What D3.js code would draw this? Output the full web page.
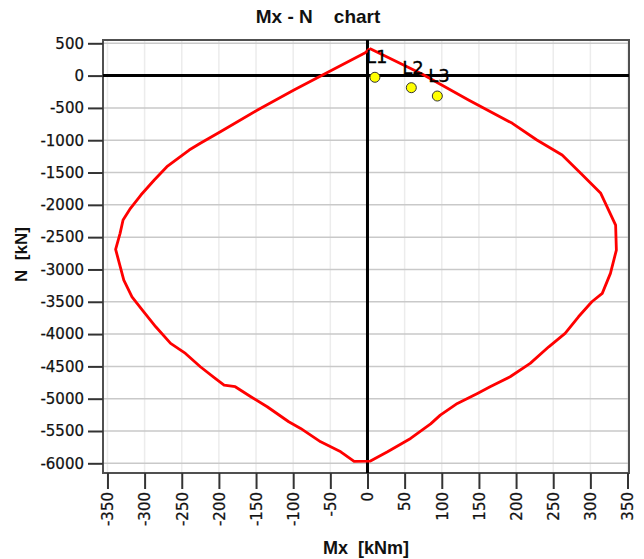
<!DOCTYPE html>
<html>
<head>
<meta charset="utf-8">
<script src="https://cdn.jsdelivr.net/npm/d3@7"></script>
<style>
  html, body { margin: 0; padding: 0; background: #fff; }
  svg { display: block; }
</style>
</head>
<body>
<svg id="chart" width="644" height="559"></svg>
<script>
// ---- data ----
const curveMx = [3, 74, 136, 195, 228, 262, 287, 314, 334, 335, 327, 316, 302, 284, 266, 244, 219, 192, 165, 148, 121, 98, 85, 58, 27, 4, -18, -36, -63, -90, -106, -135, -157, -178, -193, -205, -225, -245, -265, -285, -303, -317, -328, -334, -339, -333, -329, -319, -305, -287, -270, -240, -225, -198, -148, -99, -63, -3, 3];
const curveN  = [420, 20, -378, -739, -997, -1229, -1513, -1822, -2313, -2700, -3061, -3370, -3500, -3732, -3990, -4197, -4454, -4661, -4815, -4918, -5073, -5254, -5390, -5615, -5822, -5965, -5970, -5822, -5667, -5460, -5357, -5125, -4970, -4815, -4790, -4686, -4506, -4300, -4145, -3887, -3629, -3423, -3164, -2906, -2689, -2441, -2235, -2054, -1848, -1616, -1410, -1152, -1048, -868, -532, -223, -6, 354, 420];

const loadNames = ["L1", "L2", "L3"];
const loadMx = [10, 59, 94];
const loadN = [-26, -187, -316];

const xTicks = [-350, -300, -250, -200, -150, -100, -50, 0, 50, 100, 150, 200, 250, 300, 350];
const yTicks = [500, 0, -500, -1000, -1500, -2000, -2500, -3000, -3500, -4000, -4500, -5000, -5500, -6000];

const titleText = "Mx - N    chart";
const xTitle = "Mx  [kNm]";
const yTitle = "N  [kN]";

// ---- layout ----
const plot = { left: 103, right: 629, top: 40, bottom: 473 };
const svg = d3.select("#chart");

const x = d3.scaleLinear().domain([-356, 352]).range([plot.left, plot.right]);
const y = d3.scaleLinear().domain([551, -6150]).range([plot.top, plot.bottom]);
const fmt = d => String(d);

// vertical grid (light)
svg.append("g").selectAll("line").data(xTicks).join("line")
  .attr("x1", d => x(d)).attr("x2", d => x(d))
  .attr("y1", plot.top).attr("y2", plot.bottom)
  .attr("stroke", "#ececec").attr("stroke-width", 1.5);

// horizontal grid
svg.append("g").selectAll("line").data(yTicks).join("line")
  .attr("x1", plot.left).attr("x2", plot.right)
  .attr("y1", d => y(d)).attr("y2", d => y(d))
  .attr("stroke", "#c9c9c9").attr("stroke-width", 1.5);

// frame
svg.append("rect")
  .attr("x", plot.left).attr("y", plot.top)
  .attr("width", plot.right - plot.left).attr("height", plot.bottom - plot.top)
  .attr("fill", "none").attr("stroke", "#505050").attr("stroke-width", 2);

// axes ticks & labels
const yAxis = d3.axisLeft(y).tickValues(yTicks).tickSize(15).tickPadding(4).tickFormat(fmt);
const gy = svg.append("g").attr("transform", `translate(${plot.left},0)`).call(yAxis);
gy.select(".domain").remove();
gy.selectAll(".tick line").attr("stroke", "#333").attr("stroke-width", 2);
gy.selectAll(".tick text")
  .attr("fill", "#111").attr("stroke", "#111").attr("stroke-width", 0.25)
  .style("font-family", "'DejaVu Sans', Verdana, sans-serif")
  .style("font-size", "15px");

const xAxis = d3.axisBottom(x).tickValues(xTicks).tickSize(16).tickPadding(3).tickFormat(fmt);
const gx = svg.append("g").attr("transform", `translate(0,${plot.bottom})`).call(xAxis);
gx.select(".domain").remove();
gx.selectAll(".tick line").attr("stroke", "#333").attr("stroke-width", 2);
gx.selectAll(".tick text")
  .attr("fill", "#111").attr("stroke", "#111").attr("stroke-width", 0.25)
  .attr("transform", "rotate(-90)")
  .attr("x", -19).attr("y", 0).attr("dy", "0.35em")
  .attr("text-anchor", "end")
  .style("font-family", "'DejaVu Sans', Verdana, sans-serif")
  .style("font-size", "15px");

// zero lines
svg.append("line")
  .attr("x1", plot.left).attr("x2", plot.right)
  .attr("y1", y(0)).attr("y2", y(0))
  .attr("stroke", "#000").attr("stroke-width", 3);
svg.append("line")
  .attr("x1", x(0)).attr("x2", x(0))
  .attr("y1", plot.top).attr("y2", plot.bottom)
  .attr("stroke", "#000").attr("stroke-width", 3);

// interaction curve
const curvePts = curveMx.map((m, i) => [m, curveN[i]]);
svg.append("path")
  .datum(curvePts)
  .attr("d", d3.line().x(d => x(d[0])).y(d => y(d[1])))
  .attr("fill", "none").attr("stroke", "#ff0000").attr("stroke-width", 2.8)
  .attr("stroke-linejoin", "round");

// load points
const loads = loadNames.map((n, i) => ({ name: n, mx: loadMx[i], n: loadN[i] }));
svg.append("g").selectAll("circle").data(loads).join("circle")
  .attr("cx", d => x(d.mx)).attr("cy", d => y(d.n)).attr("r", 5)
  .attr("fill", "#ffff00").attr("stroke", "#333").attr("stroke-width", 1);
svg.append("g").selectAll("text").data(loads).join("text")
  .attr("x", d => x(d.mx) - 9).attr("y", d => y(d.n) - 14)
  .attr("fill", "#000").attr("stroke", "#000").attr("stroke-width", 0.3)
  .style("font-family", "'DejaVu Sans', Verdana, sans-serif")
  .style("font-size", "18px")
  .text(d => d.name);

// titles
svg.append("text")
  .attr("x", 318).attr("y", 23)
  .attr("text-anchor", "middle")
  .style("white-space", "pre")
  .style("font-family", "'Liberation Sans', Arial, sans-serif")
  .style("font-weight", "bold").style("font-size", "19px")
  .attr("fill", "#111")
  .text(titleText);

svg.append("text")
  .attr("x", (plot.left + plot.right) / 2).attr("y", 554)
  .attr("text-anchor", "middle")
  .style("white-space", "pre")
  .style("font-family", "'Liberation Sans', Arial, sans-serif")
  .style("font-weight", "bold").style("font-size", "18px")
  .attr("fill", "#111")
  .text(xTitle);

svg.append("text")
  .attr("transform", `translate(27,${(plot.top + plot.bottom) / 2 - 2}) rotate(-90)`)
  .attr("text-anchor", "middle")
  .style("white-space", "pre")
  .style("font-family", "'Liberation Sans', Arial, sans-serif")
  .style("font-weight", "bold").style("font-size", "17px")
  .attr("fill", "#111")
  .text(yTitle);
</script>
</body>
</html>
